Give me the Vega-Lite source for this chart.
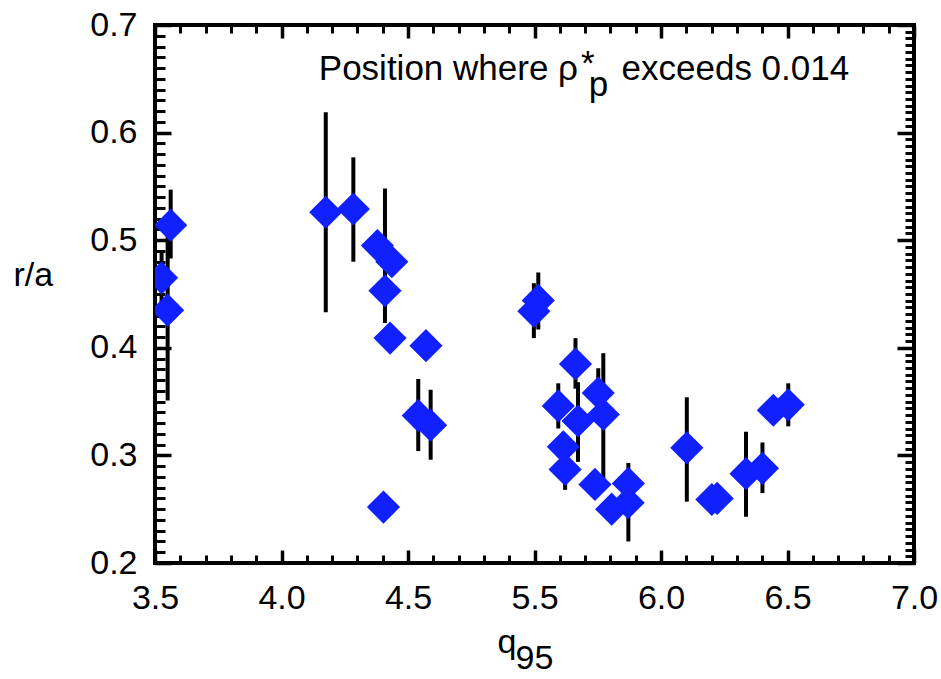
{
  "$schema": "https://vega.github.io/schema/vega-lite/v6.json",
  "width": 759,
  "height": 538,
  "autosize": {"type": "none"},
  "padding": {"left": 155, "top": 25, "right": 27, "bottom": 116},
  "background": "white",
  "config": {
    "font": "Liberation Sans",
    "view": {"stroke": "black", "strokeWidth": 4},
    "axis": {
      "grid": false,
      "domain": false,
      "labelColor": "black",
      "tickColor": "black",
      "labelFont": "Liberation Sans",
      "titleFont": "Liberation Sans",
      "labelFontSize": 34,
      "titleFontSize": 34,
      "titleFontWeight": "normal",
      "titleColor": "black",
      "tickWidth": 3,
      "labelOverlap": false,
      "labelFlush": false
    }
  },
  "data": {
    "values": [
      {"q": 3.562, "r": 0.514, "lo": 0.483, "hi": 0.547},
      {"q": 3.526, "r": 0.465, "lo": 0.44, "hi": 0.49},
      {"q": 3.55, "r": 0.435, "lo": 0.351, "hi": 0.52},
      {"q": 4.175, "r": 0.526, "lo": 0.433, "hi": 0.619},
      {"q": 4.284, "r": 0.529, "lo": 0.48, "hi": 0.577},
      {"q": 4.379, "r": 0.495},
      {"q": 4.436, "r": 0.48},
      {"q": 4.409, "r": 0.453, "lo": 0.423, "hi": 0.548},
      {"q": 4.429, "r": 0.409},
      {"q": 4.642, "r": 0.402},
      {"q": 4.581, "r": 0.337, "lo": 0.304, "hi": 0.371},
      {"q": 4.679, "r": 0.328, "lo": 0.296, "hi": 0.361},
      {"q": 4.403, "r": 0.252},
      {"q": 5.495, "r": 0.434, "lo": 0.409, "hi": 0.46},
      {"q": 5.515, "r": 0.444, "lo": 0.417, "hi": 0.47},
      {"q": 5.662, "r": 0.385, "lo": 0.362, "hi": 0.409},
      {"q": 5.594, "r": 0.346, "lo": 0.325, "hi": 0.367},
      {"q": 5.752, "r": 0.358, "lo": 0.335, "hi": 0.381},
      {"q": 5.772, "r": 0.338, "lo": 0.277, "hi": 0.395},
      {"q": 5.614, "r": 0.308},
      {"q": 5.621, "r": 0.287, "lo": 0.268, "hi": 0.306},
      {"q": 5.672, "r": 0.332, "lo": 0.294, "hi": 0.368},
      {"q": 5.739, "r": 0.273},
      {"q": 5.805, "r": 0.25},
      {"q": 5.871, "r": 0.274, "lo": 0.22, "hi": 0.293},
      {"q": 5.87, "r": 0.256},
      {"q": 6.102, "r": 0.307, "lo": 0.257, "hi": 0.354},
      {"q": 6.201, "r": 0.259},
      {"q": 6.222, "r": 0.26},
      {"q": 6.336, "r": 0.283, "lo": 0.243, "hi": 0.322},
      {"q": 6.401, "r": 0.288, "lo": 0.265, "hi": 0.312},
      {"q": 6.444, "r": 0.342},
      {"q": 6.503, "r": 0.347, "lo": 0.327, "hi": 0.367}
    ]
  },
  "resolve": {"axis": {"x": "independent", "y": "independent"}},
  "layer": [
    {
      "transform": [{"filter": "isValid(datum.lo)"}],
      "mark": {"type": "rule", "color": "black", "strokeWidth": 4},
      "encoding": {
        "x": {
          "field": "q", "type": "quantitative",
          "scale": {"domain": [3.5, 4.5, 5.5, 7.0], "range": [0, 253, 379.5, 759], "zero": false, "nice": false},
          "axis": {
            "orient": "bottom",
            "values": [3.5, 4, 4.5, 5.5, 6, 6.5, 7],
            "format": ".1f",
            "ticks": false,
            "labelPadding": 18,
            "title": "q",
            "titleX": 342,
            "titleY": 89,
            "titleAlign": "left",
            "titleAnchor": null,
            "titleBaseline": "alphabetic"
          }
        },
        "y": {
          "field": "lo", "type": "quantitative",
          "scale": {"domain": [0.2, 0.7], "zero": false, "nice": false},
          "axis": {
            "orient": "left",
            "values": [0.2, 0.3, 0.4, 0.5, 0.6, 0.7],
            "format": ".1f",
            "ticks": false,
            "labelPadding": 18,
            "title": "r/a",
            "titleAngle": 0,
            "titleX": -142,
            "titleY": 260,
            "titleAlign": "left",
            "titleAnchor": null,
            "titleBaseline": "alphabetic"
          }
        },
        "y2": {"field": "hi"}
      }
    },
    {
      "mark": {"type": "point", "shape": "diamond", "filled": true, "size": 1100, "color": "#1020ff", "opacity": 1, "clip": true},
      "encoding": {
        "x": {
          "field": "q", "type": "quantitative",
          "axis": {
            "orient": "bottom",
            "values": [3.5, 4, 4.5, 5.5, 6, 6.5, 7],
            "labels": false,
            "title": null,
            "tickSize": 13,
            "offset": -13,
            "tickWidth": 3.5
          }
        },
        "y": {
          "field": "r", "type": "quantitative",
          "axis": {
            "orient": "left",
            "values": [0.2, 0.3, 0.4, 0.5, 0.6, 0.7],
            "labels": false,
            "title": null,
            "tickSize": 16,
            "offset": -16,
            "tickWidth": 3.5
          }
        }
      }
    },
    {
      "data": {"values": [{}]},
      "mark": {"type": "text", "text": "Position where ρ", "align": "right", "baseline": "alphabetic", "fontSize": 35, "font": "Liberation Sans", "color": "black"},
      "encoding": {
        "x": {
          "datum": 5.672, "type": "quantitative",
          "axis": {
            "orient": "top",
            "values": [3.5, 4, 4.5, 5.5, 6, 6.5, 7],
            "labels": false,
            "title": null,
            "tickSize": 13,
            "offset": -13,
            "tickWidth": 3.5
          }
        },
        "y": {
          "datum": 0.6489, "type": "quantitative",
          "axis": {
            "orient": "right",
            "values": [0.2, 0.3, 0.4, 0.5, 0.6, 0.7],
            "labels": false,
            "title": null,
            "tickSize": 17,
            "offset": -17,
            "tickWidth": 3.5
          }
        }
      }
    },
    {
      "data": {"values": [{}]},
      "mark": {"type": "text", "text": "*", "align": "left", "baseline": "alphabetic", "fontSize": 35, "font": "Liberation Sans", "color": "black"},
      "encoding": {
        "x": {
          "datum": 5.684, "type": "quantitative",
          "axis": {
            "orient": "bottom",
            "values": [3.6, 3.7, 3.8, 3.9, 4.1, 4.2, 4.3, 4.4, 4.7, 4.9, 5.1, 5.3, 5.6, 5.7, 5.8, 5.9, 6.1, 6.2, 6.3, 6.4, 6.6, 6.7, 6.8, 6.9],
            "labels": false,
            "tickSize": 8,
            "offset": -8,
            "title": "95",
            "titleX": 360,
            "titleY": 113,
            "titleAlign": "left",
            "titleAnchor": null,
            "titleBaseline": "alphabetic"
          }
        },
        "y": {
          "datum": 0.6535, "type": "quantitative",
          "axis": {
            "orient": "left",
            "values": [0.21, 0.22, 0.23, 0.24, 0.25, 0.26, 0.27, 0.28, 0.29, 0.31, 0.32, 0.33, 0.34, 0.35, 0.36, 0.37, 0.38, 0.39, 0.41, 0.42, 0.43, 0.44, 0.45, 0.46, 0.47, 0.48, 0.49, 0.51, 0.52, 0.53, 0.54, 0.55, 0.56, 0.57, 0.58, 0.59, 0.61, 0.62, 0.63, 0.64, 0.65, 0.66, 0.67, 0.68, 0.69],
            "labels": false,
            "title": null,
            "tickSize": 10,
            "offset": -10
          }
        }
      }
    },
    {
      "data": {"values": [{}]},
      "mark": {"type": "text", "text": "p", "align": "left", "baseline": "alphabetic", "fontSize": 35, "font": "Liberation Sans", "color": "black"},
      "encoding": {
        "x": {
          "datum": 5.714, "type": "quantitative",
          "axis": {
            "orient": "top",
            "values": [3.6, 3.7, 3.8, 3.9, 4.1, 4.2, 4.3, 4.4, 4.7, 4.9, 5.1, 5.3, 5.6, 5.7, 5.8, 5.9, 6.1, 6.2, 6.3, 6.4, 6.6, 6.7, 6.8, 6.9],
            "labels": false,
            "title": null,
            "tickSize": 8,
            "offset": -8
          }
        },
        "y": {
          "datum": 0.634, "type": "quantitative",
          "axis": {
            "orient": "right",
            "values": [0.20625, 0.2125, 0.21875, 0.225, 0.23125, 0.2375, 0.24375, 0.25, 0.25625, 0.2625, 0.26875, 0.275, 0.28125, 0.2875, 0.29375, 0.30625, 0.3125, 0.31875, 0.325, 0.33125, 0.3375, 0.34375, 0.35, 0.35625, 0.3625, 0.36875, 0.375, 0.38125, 0.3875, 0.39375, 0.40625, 0.4125, 0.41875, 0.425, 0.43125, 0.4375, 0.44375, 0.45, 0.45625, 0.4625, 0.46875, 0.475, 0.48125, 0.4875, 0.49375, 0.50625, 0.5125, 0.51875, 0.525, 0.53125, 0.5375, 0.54375, 0.55, 0.55625, 0.5625, 0.56875, 0.575, 0.58125, 0.5875, 0.59375, 0.60625, 0.6125, 0.61875, 0.625, 0.63125, 0.6375, 0.64375, 0.65, 0.65625, 0.6625, 0.66875, 0.675, 0.68125, 0.6875, 0.69375],
            "labels": false,
            "title": null,
            "tickSize": 9,
            "offset": -9
          }
        }
      }
    },
    {
      "data": {"values": [{}]},
      "mark": {"type": "text", "text": "exceeds 0.014", "align": "left", "baseline": "alphabetic", "fontSize": 35, "font": "Liberation Sans", "color": "black"},
      "encoding": {
        "x": {"datum": 5.844, "type": "quantitative", "axis": null},
        "y": {"datum": 0.6489, "type": "quantitative", "axis": null}
      }
    }
  ]
}
